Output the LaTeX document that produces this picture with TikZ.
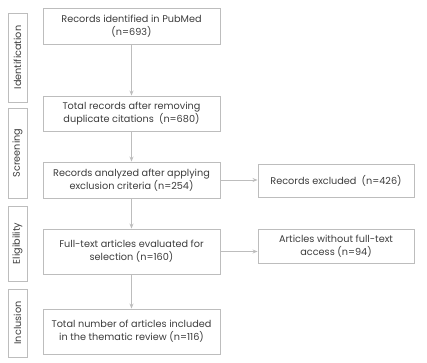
\documentclass[tikz,border=0pt]{standalone}
\usepackage{fontspec}
\setmainfont{Poppins}
\usetikzlibrary{arrows.meta}
\definecolor{txtgray}{HTML}{3C3C3C}
\definecolor{linegray}{HTML}{BDBDBD}
\begin{document}
\begin{tikzpicture}[x=1pt, y=-1pt, font=\fontsize{9.7}{13}\selectfont, text=txtgray,
		box/.style={draw=linegray, line width=0.9pt, align=center, inner sep=0pt, minimum width=177pt},
		sidebox/.style={draw=linegray, line width=0.9pt, align=center, inner sep=0pt, minimum width=156pt},
		stage/.style={draw=linegray, line width=0.9pt, rotate=90, inner sep=0pt, minimum height=19pt},
		arr/.style={draw=linegray, line width=0.9pt, -{Stealth[length=5pt, width=4pt]}}]
			\useasboundingbox (0,0) rectangle (427,362);
			
			% main column
			\node[box, minimum height=36pt] (ident) at (131.5,26) {Records identified in PubMed\\(n=693)};
			\node[box, minimum height=35pt] (dupl) at (131.5,113.5) {Total records after removing\\duplicate citations\ \ (n=680)};
			\node[box, minimum height=36pt] (anal) at (131.5,180) {Records analyzed after applying\\exclusion criteria (n=254)};
			\node[box, minimum height=45pt] (full) at (131.5,251.5) {Full-text articles evaluated for\\selection (n=160)};
			\node[box, minimum height=45pt] (incl) at (131.5,331.5) {Total number of articles included\\in the thematic review (n=116)};
			
			% right column
			\node[sidebox, minimum height=33pt] (excl) at (336,180.5) {Records excluded\ \ (n=426)};
			\node[sidebox, minimum height=34pt] (noacc) at (336,246) {Articles without full-text\\access (n=94)};
			
			% stages
			\node[stage, minimum width=89pt] (sIdent) at (17.5,57.5) {Identification};
			\node[stage, minimum width=90pt] (sScreen) at (17.5,153) {Screening};
			\node[stage, minimum width=75pt] (sElig) at (17.5,243.5) {Eligibility};
			\node[stage, minimum width=68pt] (sIncl) at (17.5,323) {Inclusion};
			
			\draw[arr] (ident) -- (dupl);
			\draw[arr] (dupl) -- (anal);
			\draw[arr] (anal) -- (full);
			\draw[arr] (full) -- (incl);
			\draw[arr] (anal.east) -- (anal.east -| excl.west);
			\draw[arr] (full.east) -- (full.east -| noacc.west);
		\end{tikzpicture}
\end{document}
